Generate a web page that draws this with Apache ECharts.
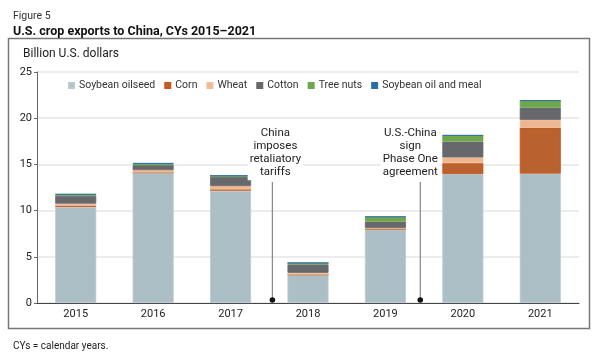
<!DOCTYPE html>
<html>
<head>
<meta charset="utf-8">
<script src="https://cdn.jsdelivr.net/npm/echarts@6/dist/echarts.min.js"></script>
<style>
html,body{margin:0;padding:0;background:#fff;}
#c{width:600px;height:357px;}
</style>
</head>
<body>
<div id="c"></div>
<script>
const years = ['2015','2016','2017','2018','2019','2020','2021'];
const soybeanOilseed = [10.4, 14.1, 12.15, 3.05, 7.95, 13.95, 14.0];
const corn           = [0.15, 0.02, 0.15, 0.02, 0.03, 1.2, 4.98];
const wheat          = [0.2, 0.25, 0.35, 0.2, 0.12, 0.6, 0.83];
const cotton         = [0.85, 0.55, 1.0, 0.9, 0.7, 1.73, 1.33];
const treeNuts       = [0.15, 0.12, 0.12, 0.17, 0.52, 0.65, 0.76];
const soybeanOilMeal = [0.03, 0.12, 0.02, 0.01, 0.02, 0.02, 0.02];
const yTicks = [0, 5, 10, 15, 20, 25];
const annotations = [
  {pos: 2.54, dx: 3, text: 'China\nimposes\nretaliatory\ntariffs'},
  {pos: 4.45, dx: -10, text: 'U.S.-China\nsign\nPhase One\nagreement'}
];

const FONT = 'Roboto, "Noto Sans", sans-serif';
const chart = echarts.init(document.getElementById('c'), null, {renderer: 'canvas'});

const names = ['Soybean oilseed','Corn','Wheat','Cotton','Tree nuts','Soybean oil and meal'];
const colors = ['#adbfc6','#b9612f','#efb58c','#67686b','#6fa84b','#2b6ca8'];
const borders = ['#b9cad0','#c8561a','#f2bf9a','#67686b','#6fa84b','#2b6ca8'];
const datas = [soybeanOilseed, corn, wheat, cotton, treeNuts, soybeanOilMeal];

const series = names.map((n, i) => ({
  name: n, type: 'bar', stack: 'total', barWidth: '53%',
  data: datas[i],
  itemStyle: {color: colors[i], borderColor: borders[i], borderWidth: 0.8},
  emphasis: {disabled: true}
}));

chart.setOption({
  animation: false,
  textStyle: {fontFamily: FONT},
  title: [
    {text: 'Figure 5', left: 8, top: 6, textStyle: {fontSize: 10.5, fontWeight: 'normal', color: '#333', fontFamily: FONT}},
    {text: 'U.S. crop exports to China, CYs 2015\u20132021', left: 8, top: 20, textStyle: {fontSize: 12.5, fontWeight: 'bold', color: '#111', fontFamily: FONT}},
    {text: 'Billion U.S. dollars', left: 18, top: 43, textStyle: {fontSize: 12, fontWeight: 'normal', color: '#222', fontFamily: FONT}},
    {text: 'CYs = calendar years.', left: 8, top: 336, textStyle: {fontSize: 10, fontWeight: 'normal', color: '#222', fontFamily: FONT}}
  ],
  legend: {
    left: 68, top: 80, padding: 0, itemWidth: 5, itemHeight: 5, itemGap: 9, icon: 'rect',
    textStyle: {fontSize: 10.5, color: '#333', fontFamily: FONT},
    data: names
  },
  grid: {left: 37, right: 21, top: 72, bottom: 54},
  xAxis: {
    type: 'category', data: years,
    axisLine: {lineStyle: {color: '#444', width: 1.2}},
    axisTick: {show: false},
    axisLabel: {fontSize: 11, color: '#222', margin: 6, fontFamily: FONT}
  },
  yAxis: {
    type: 'value', min: yTicks[0], max: yTicks[yTicks.length-1], interval: 5,
    axisLine: {show: true, lineStyle: {color: '#666', width: 1}},
    axisTick: {show: true, length: 3, lineStyle: {color: '#666'}},
    axisLabel: {fontSize: 11, color: '#222', margin: 5, fontFamily: FONT},
    splitLine: {lineStyle: {color: '#e6e6e6', width: 1.5}}
  },
  series: series
});

function addGraphics() {
  const els = [];
  els.push({type: 'rect', shape: {x: 8.5, y: 38.5, width: 581, height: 290}, style: {fill: null, stroke: '#777', lineWidth: 1.5}, silent: true, z: 0});
  const y0 = chart.convertToPixel({yAxisIndex: 0}, 0);
  annotations.forEach(a => {
    const i = Math.floor(a.pos), f = a.pos - i;
    const xa = chart.convertToPixel({xAxisIndex: 0}, years[i]);
    const xb = chart.convertToPixel({xAxisIndex: 0}, years[i+1]);
    const x = xa + (xb - xa) * f;
    els.push({type: 'line', shape: {x1: x, y1: 182, x2: x, y2: y0 - 3}, style: {stroke: '#888', lineWidth: 1.2}, z: 10});
    els.push({type: 'circle', shape: {cx: x, cy: y0 - 3, r: 2.8}, style: {fill: '#111'}, z: 11});
    els.push({type: 'text', x: x + a.dx, y: 125, style: {text: a.text, fontSize: 11.5, fontFamily: FONT, fill: '#222', align: 'center', verticalAlign: 'top', lineHeight: 13.3, backgroundColor: '#fff', padding: [1,2,1,2]}, z: 12});
  });
  chart.setOption({graphic: {elements: els}});
}
addGraphics();
</script>
</body>
</html>
